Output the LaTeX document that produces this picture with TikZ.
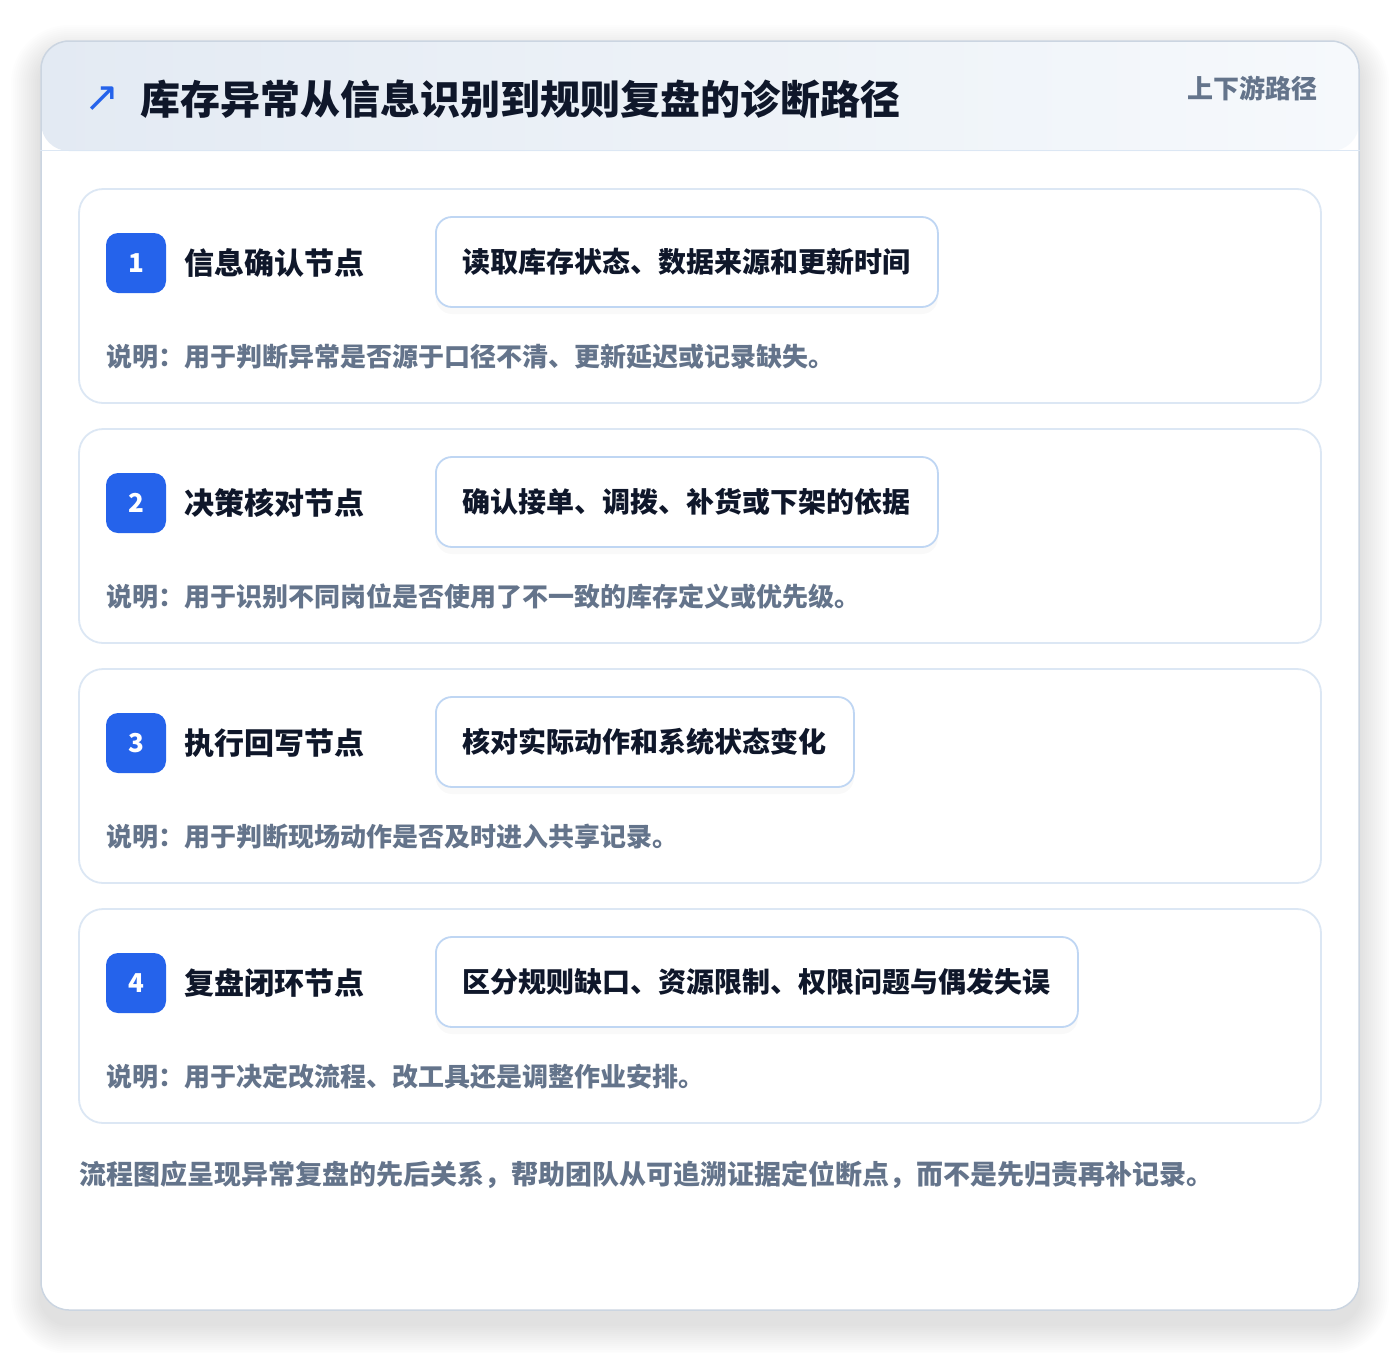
\documentclass[tikz,border=0pt]{standalone}
\usepackage{fontspec}
\setmainfont{Noto Sans CJK SC}
\newfontfamily\symfont{DejaVu Sans}
\usetikzlibrary{positioning,shadows}

\definecolor{accent}{HTML}{2563EB}
\definecolor{ink}{HTML}{0F172A}
\definecolor{muted}{HTML}{64748B}
\definecolor{outline}{HTML}{CBD5E1}
\definecolor{cardline}{HTML}{DCE7F4}
\definecolor{boxline}{HTML}{BFD6F3}
\definecolor{headl}{HTML}{E3EAF3}
\definecolor{headr}{HTML}{F6F9FC}

\tikzset{
  cardframe/.style={draw=outline, line width=1.5, fill=white, rounded corners=28,
    minimum width=1318, minimum height=1269, inner sep=0},
  stepcard/.style={draw=cardline, line width=1.8, fill=white, rounded corners=24,
    minimum width=1242, minimum height=214, inner sep=0},
  badge/.style={fill=accent, rounded corners=12, minimum size=60, inner sep=0,
    text=white, font=\fontsize{26}{30}\selectfont\bfseries},
  steptitle/.style={inner sep=0, text=ink, font=\fontsize{30}{36}\selectfont\bfseries,
    text height=26.4, text depth=3.6},
  detailbox/.style={draw=boxline, line width=1.8, fill=white, rounded corners=16,
    minimum height=90, inner sep=0, text=ink, font=\fontsize{28}{34}\selectfont\bfseries,
    text height=24.6, text depth=3.4,
    general shadow={fill=black, opacity=0.025, shadow yshift=-7pt, rounded corners=18}},
  note/.style={anchor=west, inner sep=0, text=muted, font=\fontsize{26}{32}\selectfont\bfseries,
    text height=22.9, text depth=3.1}
}

\begin{document}
\begin{tikzpicture}[x=1pt, y=-1pt]
  \useasboundingbox (0,0) rectangle (1400,1352);

  % soft shadow round the card
  \foreach \s in {2,4,...,30}
    \fill[black, opacity=0.006, rounded corners=28+\s] (41-\s,55-\s) rectangle (1359+\s,1324+\s);

  \node (card) [cardframe, path picture={
      \shade[left color=headl, right color=headr] (path picture bounding box.north west)
        rectangle ([yshift=-110pt]path picture bounding box.north east);}] at (700,675.5) {};
  \draw [draw=cardline, line width=1.5] ([yshift=-110pt]card.north west) -- ([yshift=-110pt]card.north east);

  % header
  \node (icon) [text=accent, inner sep=0, font=\fontsize{42}{46}\selectfont\symfont] at (102,99) {↗};
  \node (title) [anchor=west, inner sep=0, text=ink, font=\fontsize{40}{48}\selectfont\bfseries,
    text height=35.2, text depth=4.8] at (140,99) {库存异常从信息识别到规则复盘的诊断路径};
  \node (tag) [anchor=east, inner sep=0, text=muted, font=\fontsize{26}{32}\selectfont\bfseries,
    text height=22.9, text depth=3.1] at (1318,89) {上下游路径};

  % step 1
  \node (card1) [stepcard] at (700,296) {};
  \node (badge1) [badge] at (136,263) {1};
  \node (name1) [steptitle, right=18pt of badge1] {信息确认节点};
  \node (box1) [detailbox, anchor=west, minimum width=502] at (435,262) {读取库存状态、数据来源和更新时间};
  \node (note1) [note] at (106,357) {说明：用于判断异常是否源于口径不清、更新延迟或记录缺失。};

  % step 2
  \node (card2) [stepcard] at (700,536) {};
  \node (badge2) [badge] at (136,503) {2};
  \node (name2) [steptitle, right=18pt of badge2] {决策核对节点};
  \node (box2) [detailbox, anchor=west, minimum width=502] at (435,502) {确认接单、调拨、补货或下架的依据};
  \node (note2) [note] at (106,597) {说明：用于识别不同岗位是否使用了不一致的库存定义或优先级。};

  % step 3
  \node (card3) [stepcard] at (700,776) {};
  \node (badge3) [badge] at (136,743) {3};
  \node (name3) [steptitle, right=18pt of badge3] {执行回写节点};
  \node (box3) [detailbox, anchor=west, minimum width=418] at (435,742) {核对实际动作和系统状态变化};
  \node (note3) [note] at (106,837) {说明：用于判断现场动作是否及时进入共享记录。};

  % step 4
  \node (card4) [stepcard] at (700,1016) {};
  \node (badge4) [badge] at (136,983) {4};
  \node (name4) [steptitle, right=18pt of badge4] {复盘闭环节点};
  \node (box4) [detailbox, anchor=west, minimum width=642] at (435,982) {区分规则缺口、资源限制、权限问题与偶发失误};
  \node (note4) [note] at (106,1077) {说明：用于决定改流程、改工具还是调整作业安排。};

  % footer
  \node (footer) [note, font=\fontsize{27}{32}\selectfont\bfseries] at (79,1175)
    {流程图应呈现异常复盘的先后关系，帮助团队从可追溯证据定位断点，而不是先归责再补记录。};
\end{tikzpicture}
\end{document}
